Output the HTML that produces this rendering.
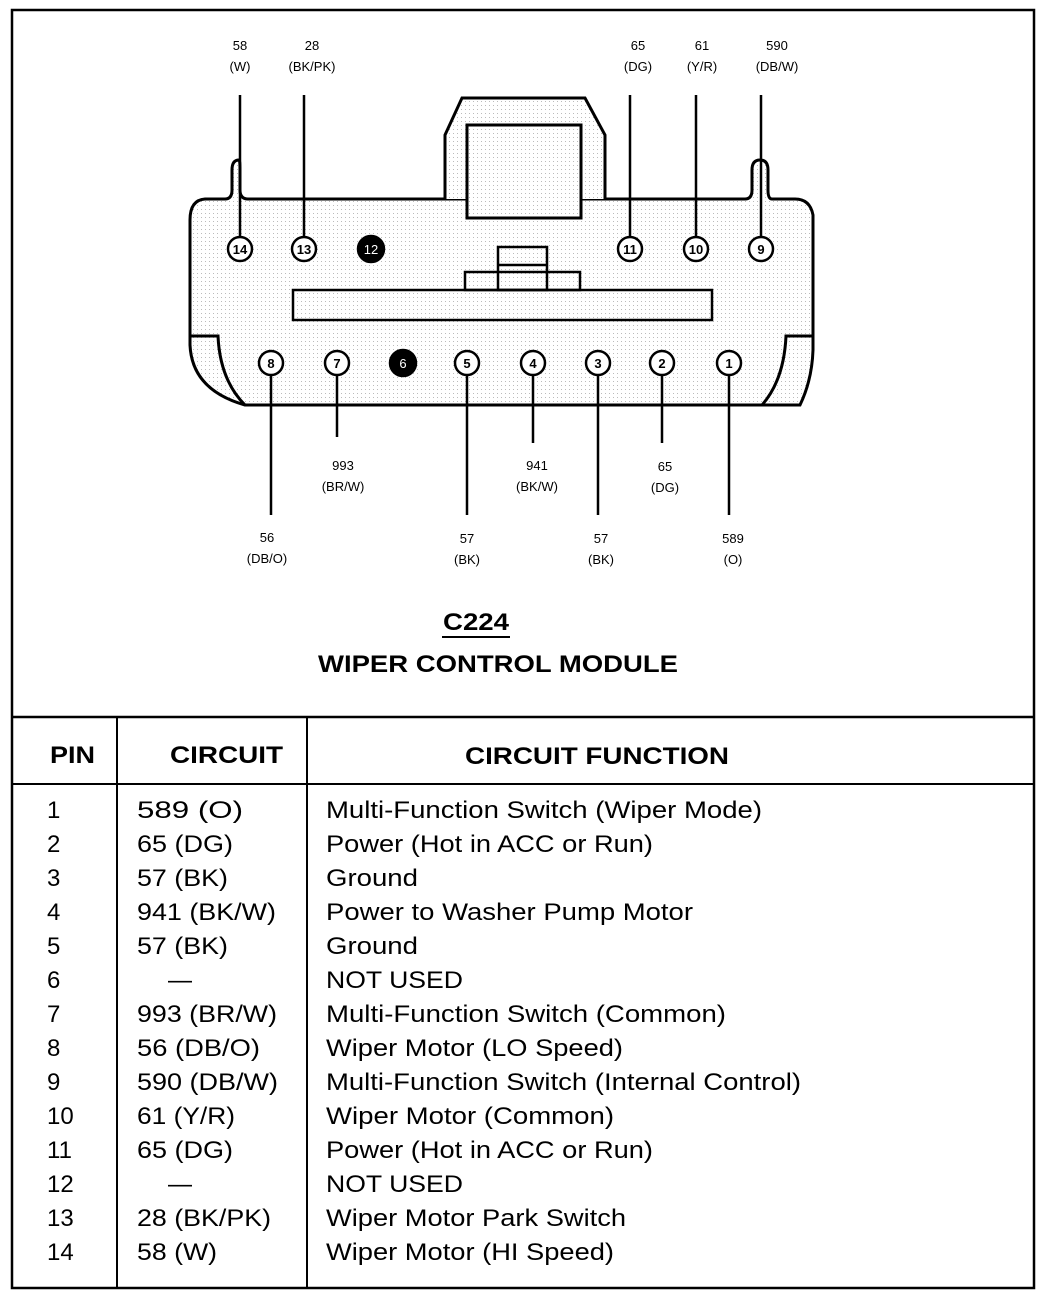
<!DOCTYPE html>
<html><head><style>
body{margin:0;background:#fff;}
svg{display:block;font-family:"Liberation Sans",Arial,sans-serif;}
</style></head><body>
<svg width="1056" height="1300" viewBox="0 0 1056 1300" xmlns="http://www.w3.org/2000/svg">
<defs>
<pattern id="dots" width="4" height="4" patternUnits="userSpaceOnUse"><rect width="4" height="4" fill="#fff"/><rect x="1" y="1" width="1" height="1" fill="#bbb"/></pattern>
</defs>
<rect x="12" y="10" width="1022" height="1278" fill="none" stroke="#000" stroke-width="2.5"/>
<line x1="12" y1="717" x2="1034" y2="717" stroke="#000" stroke-width="2.5"/>
<line x1="12" y1="784" x2="1034" y2="784" stroke="#000" stroke-width="2"/>
<line x1="117" y1="717" x2="117" y2="1288" stroke="#000" stroke-width="2"/>
<line x1="307" y1="717" x2="307" y2="1288" stroke="#000" stroke-width="2"/>

<g fill="none" stroke="#000" stroke-width="3">
<path d="M245,405 L800,405 Q812,380 813,350 L813,215 Q810,199 795,199 L772,199 Q768,199 768,190 L768,170 Q768,160 760,160 Q752,160 752,170 L752,190 Q752,199 745,199 L248,199 Q240,199 240,190 L240,170 Q240,160 239,160 Q232,160 232,170 L232,190 Q232,199 225,199 L205,199 Q190,200 190,220 L190,345 Q192,390 245,405 Z" fill="url(#dots)"/>
<path d="M190,336 L218,336 Q220,380 245,405"/>
<path d="M813,336 L786,336 Q784,380 762,405"/>
<path d="M445,199 L445,135 L462,98 L585,98 L605,135 L605,199" fill="url(#dots)"/>
<rect x="467" y="125" width="114" height="93" fill="url(#dots)"/>
<rect x="293" y="290" width="419" height="30" fill="url(#dots)" stroke-width="2.5"/>
<rect x="465" y="272" width="115" height="18" stroke-width="2.5"/>
<rect x="498" y="247" width="49" height="43" stroke-width="2.5"/>
<line x1="498" y1="265" x2="547" y2="265" stroke-width="2.5"/>
</g>

<g stroke="#000" stroke-width="2.5">
<line x1="240" y1="95" x2="240" y2="237"/>
<line x1="304" y1="95" x2="304" y2="237"/>
<line x1="630" y1="95" x2="630" y2="237"/>
<line x1="696" y1="95" x2="696" y2="237"/>
<line x1="761" y1="95" x2="761" y2="237"/>
<line x1="271" y1="375" x2="271" y2="515"/>
<line x1="337" y1="375" x2="337" y2="437"/>
<line x1="467" y1="375" x2="467" y2="515"/>
<line x1="533" y1="375" x2="533" y2="443"/>
<line x1="598" y1="375" x2="598" y2="515"/>
<line x1="662" y1="375" x2="662" y2="443"/>
<line x1="729" y1="375" x2="729" y2="515"/>
</g>

<g stroke="#000" stroke-width="2.5" fill="#fff">
<circle cx="240" cy="249" r="12"/><circle cx="304" cy="249" r="12"/>
<circle cx="630" cy="249" r="12"/><circle cx="696" cy="249" r="12"/><circle cx="761" cy="249" r="12"/>
<circle cx="271" cy="363" r="12"/><circle cx="337" cy="363" r="12"/>
<circle cx="467" cy="363" r="12"/><circle cx="533" cy="363" r="12"/><circle cx="598" cy="363" r="12"/><circle cx="662" cy="363" r="12"/><circle cx="729" cy="363" r="12"/>
<circle cx="371" cy="249" r="13" fill="#000"/><circle cx="403" cy="363" r="13" fill="#000"/>
</g>
<g font-size="13" font-weight="bold" text-anchor="middle">
<text x="240" y="254">14</text><text x="304" y="254">13</text><text x="371" y="254" fill="#fff" font-weight="normal">12</text>
<text x="630" y="254">11</text><text x="696" y="254">10</text><text x="761" y="254">9</text>
<text x="271" y="368">8</text><text x="337" y="368">7</text><text x="403" y="368" fill="#fff" font-weight="normal">6</text>
<text x="467" y="368">5</text><text x="533" y="368">4</text><text x="598" y="368">3</text><text x="662" y="368">2</text><text x="729" y="368">1</text>
</g>

<g font-size="13" text-anchor="middle">
<text x="240" y="50">58</text><text x="240" y="71">(W)</text>
<text x="312" y="50">28</text><text x="312" y="71">(BK/PK)</text>
<text x="638" y="50">65</text><text x="638" y="71">(DG)</text>
<text x="702" y="50">61</text><text x="702" y="71">(Y/R)</text>
<text x="777" y="50">590</text><text x="777" y="71">(DB/W)</text>
<text x="343" y="470">993</text><text x="343" y="491">(BR/W)</text>
<text x="537" y="470">941</text><text x="537" y="491">(BK/W)</text>
<text x="665" y="471">65</text><text x="665" y="492">(DG)</text>
<text x="267" y="542">56</text><text x="267" y="563">(DB/O)</text>
<text x="467" y="543">57</text><text x="467" y="564">(BK)</text>
<text x="601" y="543">57</text><text x="601" y="564">(BK)</text>
<text x="733" y="543">589</text><text x="733" y="564">(O)</text>
</g>

<text x="443" y="630" font-size="24" font-weight="bold" textLength="66" lengthAdjust="spacingAndGlyphs">C224</text>
<line x1="442" y1="637" x2="510" y2="637" stroke="#000" stroke-width="2"/>
<text x="318" y="672" font-size="24" font-weight="bold" textLength="360" lengthAdjust="spacingAndGlyphs">WIPER CONTROL MODULE</text>

<g font-size="24" font-weight="bold" lengthAdjust="spacingAndGlyphs">
<text x="50" y="763" textLength="45" lengthAdjust="spacingAndGlyphs">PIN</text>
<text x="170" y="763" textLength="113" lengthAdjust="spacingAndGlyphs">CIRCUIT</text>
<text x="465" y="764" textLength="264" lengthAdjust="spacingAndGlyphs">CIRCUIT FUNCTION</text>
</g>
<g font-size="24">
<text x="47" y="818">1</text><text x="137" y="818" textLength="106" lengthAdjust="spacingAndGlyphs">589 (O)</text><text x="326" y="818" textLength="436" lengthAdjust="spacingAndGlyphs">Multi-Function Switch (Wiper Mode)</text>
<text x="47" y="852">2</text><text x="137" y="852" textLength="96" lengthAdjust="spacingAndGlyphs">65 (DG)</text><text x="326" y="852" textLength="327" lengthAdjust="spacingAndGlyphs">Power (Hot in ACC or Run)</text>
<text x="47" y="886">3</text><text x="137" y="886" textLength="91" lengthAdjust="spacingAndGlyphs">57 (BK)</text><text x="326" y="886" textLength="92" lengthAdjust="spacingAndGlyphs">Ground</text>
<text x="47" y="920">4</text><text x="137" y="920" textLength="139" lengthAdjust="spacingAndGlyphs">941 (BK/W)</text><text x="326" y="920" textLength="367" lengthAdjust="spacingAndGlyphs">Power to Washer Pump Motor</text>
<text x="47" y="954">5</text><text x="137" y="954" textLength="91" lengthAdjust="spacingAndGlyphs">57 (BK)</text><text x="326" y="954" textLength="92" lengthAdjust="spacingAndGlyphs">Ground</text>
<text x="47" y="988">6</text><text x="168" y="988">—</text><text x="326" y="988" textLength="137" lengthAdjust="spacingAndGlyphs">NOT USED</text>
<text x="47" y="1022">7</text><text x="137" y="1022" textLength="140" lengthAdjust="spacingAndGlyphs">993 (BR/W)</text><text x="326" y="1022" textLength="400" lengthAdjust="spacingAndGlyphs">Multi-Function Switch (Common)</text>
<text x="47" y="1056">8</text><text x="137" y="1056" textLength="123" lengthAdjust="spacingAndGlyphs">56 (DB/O)</text><text x="326" y="1056" textLength="297" lengthAdjust="spacingAndGlyphs">Wiper Motor (LO Speed)</text>
<text x="47" y="1090">9</text><text x="137" y="1090" textLength="141" lengthAdjust="spacingAndGlyphs">590 (DB/W)</text><text x="326" y="1090" textLength="475" lengthAdjust="spacingAndGlyphs">Multi-Function Switch (Internal Control)</text>
<text x="47" y="1124">10</text><text x="137" y="1124" textLength="98" lengthAdjust="spacingAndGlyphs">61 (Y/R)</text><text x="326" y="1124" textLength="288" lengthAdjust="spacingAndGlyphs">Wiper Motor (Common)</text>
<text x="47" y="1158">11</text><text x="137" y="1158" textLength="96" lengthAdjust="spacingAndGlyphs">65 (DG)</text><text x="326" y="1158" textLength="327" lengthAdjust="spacingAndGlyphs">Power (Hot in ACC or Run)</text>
<text x="47" y="1192">12</text><text x="168" y="1192">—</text><text x="326" y="1192" textLength="137" lengthAdjust="spacingAndGlyphs">NOT USED</text>
<text x="47" y="1226">13</text><text x="137" y="1226" textLength="134" lengthAdjust="spacingAndGlyphs">28 (BK/PK)</text><text x="326" y="1226" textLength="300" lengthAdjust="spacingAndGlyphs">Wiper Motor Park Switch</text>
<text x="47" y="1260">14</text><text x="137" y="1260" textLength="80" lengthAdjust="spacingAndGlyphs">58 (W)</text><text x="326" y="1260" textLength="288" lengthAdjust="spacingAndGlyphs">Wiper Motor (HI Speed)</text>
</g>
</svg>
</body></html>
